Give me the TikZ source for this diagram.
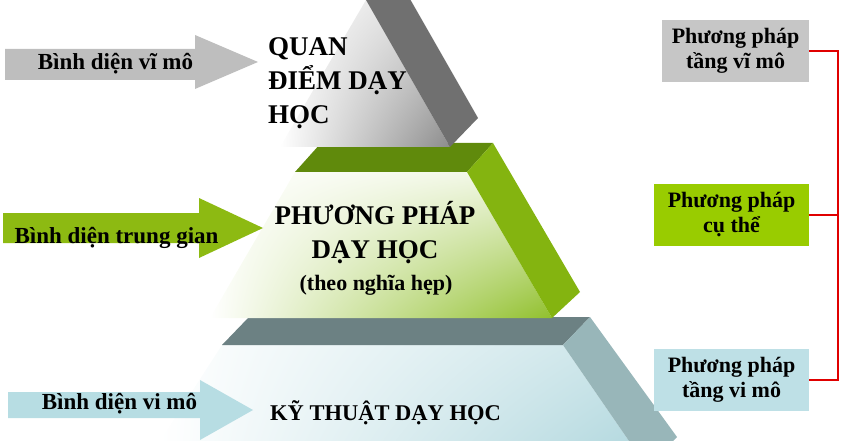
\documentclass[tikz,border=0pt]{standalone}
\usepackage{fontspec}
\setmainfont{Liberation Serif}
\usetikzlibrary{positioning, shadings}
\definecolor{armgray}{RGB}{190,190,190}
\definecolor{armgreen}{RGB}{141,186,18}
\definecolor{armblue}{RGB}{183,221,227}
\definecolor{boxgray}{RGB}{198,198,198}
\definecolor{boxgreen}{RGB}{153,204,0}
\definecolor{boxblue}{RGB}{190,224,230}
\definecolor{topband}{RGB}{112,112,112}
\definecolor{midtop}{RGB}{96,138,12}
\definecolor{midband}{RGB}{132,180,16}
\definecolor{midface}{RGB}{145,192,45}
\definecolor{lowtop}{RGB}{108,129,131}
\definecolor{lowband}{RGB}{152,182,185}
\definecolor{lowface}{RGB}{182,218,224}
\definecolor{linkred}{RGB}{224,0,0}
\tikzstyle{box}=[draw=none, minimum height=62pt, inner sep=0pt, align=center, font=\bfseries\fontsize{22}{25}\selectfont]
\tikzstyle{armtext}=[inner sep=0pt, anchor=base, font=\bfseries\fontsize{23}{25}\selectfont]
\tikzstyle{title}=[inner sep=0pt, font=\bfseries\fontsize{27}{34}\selectfont]
\tikzstyle{bracket}=[draw=linkred, line width=2.4pt]

\begin{document}
\begin{tikzpicture}[x=1pt, y=-1pt]
				\useasboundingbox (0,0) rectangle (841,441);
				\clip (0,0) rectangle (841,441);
				% lower layer
				\draw[draw=none, upper left=white, upper right=lowface!70!white, lower left=white, lower right=lowface] (222,345) -- (563,345) -- (629,441) -- (160,441) -- cycle;
				\draw[draw=none, fill=lowtop] (222,345) -- (563,345) -- (590,317) -- (249,317) -- cycle;
				\draw[draw=none, fill=lowband] (563,345) -- (590,317) -- (677,437) -- (673,441) -- (629,441) -- cycle;
				% middle layer
				\draw[draw=none, upper left=white, upper right=midface!15!white, lower left=white, lower right=midface] (295,172) -- (467,172) -- (552,318) -- (210,318) -- cycle;
				\draw[draw=none, fill=midtop] (295,172) -- (467,172) -- (493,143) -- (321,143) -- cycle;
				\draw[draw=none, fill=midband] (467,172) -- (493,143) -- (580,292) -- (552,318) -- cycle;
				% top layer
				\draw[draw=none, upper left=white, upper right=black!15, lower left=white, lower right=black!45] (366,0) -- (450,147) -- (280,147) -- cycle;
				\draw[draw=none, fill=topband] (366,0) -- (394,-29) -- (478,118) -- (450,147) -- cycle;

				\node[title, anchor=base west, align=left] (quan) at (268,124) {QUAN\\ĐIỂM DẠY\\HỌC};
				\node[title, anchor=base, align=center] (pp) at (375,258) {PHƯƠNG PHÁP\\DẠY HỌC};
				\node[inner sep=0pt, anchor=base, font=\bfseries\fontsize{22}{24}\selectfont] (hep) at (376,290) {(theo nghĩa hẹp)};
				\node[inner sep=0pt, anchor=base west, font=\bfseries\fontsize{22.5}{25}\selectfont] (kt) at (270,420) {KỸ THUẬT DẠY HỌC};

				% arrows
				\draw[draw=none, fill=armgray] (5,49) -- (195,49) -- (195,35) -- (258,62) -- (195,89) -- (195,80) -- (5,80) -- cycle;
				\draw[draw=none, fill=armgreen] (3,213) -- (199,213) -- (199,198) -- (263,228) -- (199,258) -- (199,243) -- (3,243) -- cycle;
				\draw[draw=none, fill=armblue] (8,392) -- (200,392) -- (200,380) -- (253,410) -- (200,440) -- (200,418) -- (8,418) -- cycle;
				\node[armtext] (vimac) at (115.5,70) {Bình diện vĩ mô};
				\node[armtext] (trung) at (116.5,243) {Bình diện trung gian};
				\node[armtext] (vimic) at (119.5,409) {Bình diện vi mô};

				% right column
				\node[box, fill=boxgray, minimum width=147pt] (b1) at (735.5,51) {Phương pháp\\tầng vĩ mô};
				\node[box, fill=boxgreen, minimum width=155pt] (b2) at (731.5,215) {Phương pháp\\cụ thể};
				\node[box, fill=boxblue, minimum width=155pt] (b3) at (731.5,380) {Phương pháp\\tầng vi mô};
				\coordinate (rail) at (838,0);
				\draw[bracket] (b1.east) -- (b1.east -| rail) -- (b3.east -| rail) -- (b3.east);
				\draw[bracket] (b2.east) -- (b2.east -| rail);
			\end{tikzpicture}
\end{document}
